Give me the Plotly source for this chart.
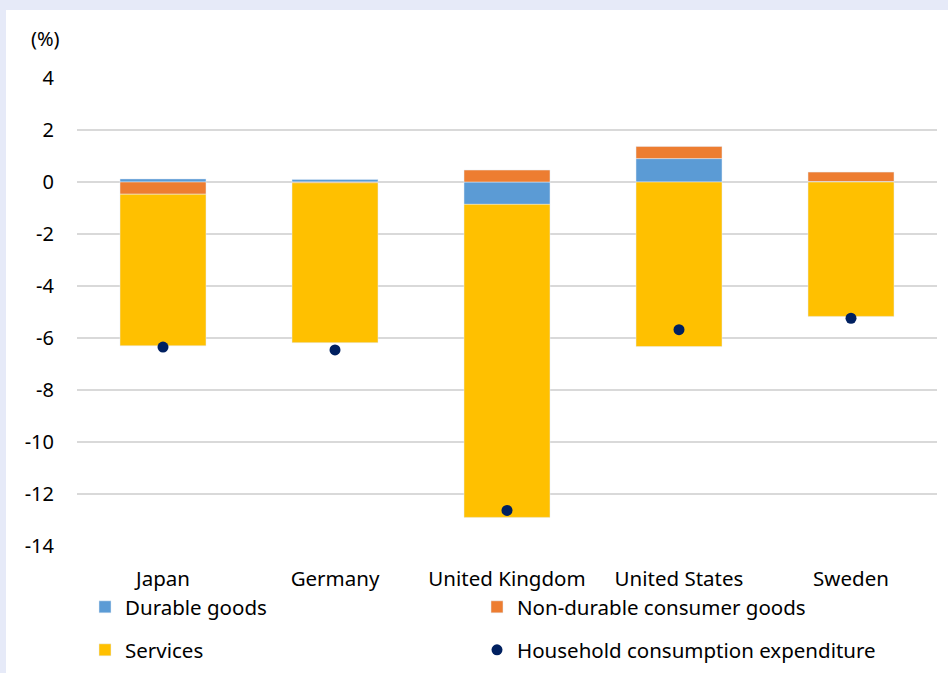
import plotly.graph_objects as go

countries = ["Japan", "Germany", "United Kingdom", "United States", "Sweden"]
durable = [0.12, 0.10, -0.86, 0.90, 0.02]
nondurable = [-0.47, -0.03, 0.46, 0.47, 0.36]
services = [-5.83, -6.15, -12.04, -6.33, -5.17]
household = [-6.35, -6.46, -12.63, -5.68, -5.24]
yticks = [4, 2, 0, -2, -4, -6, -8, -10, -12, -14]

FONT = "Noto Sans"
W, H = 948, 673
L, R, T, B = 77, 11, 78, 127
pw, ph = W - L - R, H - T - B

def px(x):
    return (x - L) / pw

def py(y):
    return (H - B - y) / ph

def cy(y):
    return 1 - y / H

def cx(x):
    return x / W

fig = go.Figure()
fig.add_bar(x=countries, y=durable, name="Durable goods", marker_color="#5B9BD5",
            width=0.5, legend="legend")
fig.add_bar(x=countries, y=nondurable, name="Non-durable consumer goods", marker_color="#ED7D31",
            width=0.5, legend="legend3")
fig.add_bar(x=countries, y=services, name="Services", marker_color="#FFC000",
            width=0.5, legend="legend2")
fig.add_scatter(x=countries, y=household, mode="markers", name="Household consumption expenditure",
                marker=dict(color="#002060", size=11), legend="legend4")

legend_common = dict(orientation="h", font=dict(family=FONT, size=20.5, color="#000000"),
                     bgcolor="rgba(0,0,0,0)",
                     xanchor="left", yanchor="middle", itemclick=False,
                     xref="container", yref="container")

fig.update_layout(
    width=W, height=H,
    margin=dict(l=L, r=R, t=T, b=B, autoexpand=False),
    paper_bgcolor="#FFFFFF", plot_bgcolor="#FFFFFF",
    barmode="relative",
    font=dict(family=FONT, size=20, color="#000000"),
    showlegend=True,
    legend=dict(x=cx(85), y=cy(607), **legend_common),
    legend3=dict(x=cx(477), y=cy(607), **legend_common),
    legend2=dict(x=cx(85), y=cy(650), **legend_common),
    legend4=dict(x=cx(477), y=cy(650), **legend_common),
    xaxis=dict(showgrid=False, showline=False, ticks="", zeroline=False,
               tickfont=dict(size=20.5, family=FONT), ticklabelstandoff=18),
    yaxis=dict(range=[-14, 4], tickvals=yticks, ticktext=[str(v) for v in yticks],
               showgrid=True, gridcolor="#D9D9D9", gridwidth=1.5,
               zeroline=True, zerolinecolor="#D9D9D9", zerolinewidth=1.5,
               showline=False, ticks="", tickfont=dict(size=20, family=FONT),
               ticklabelstandoff=22),
    annotations=[dict(text="(%)", xref="paper", yref="paper", x=px(45), y=py(38),
                      xanchor="center", yanchor="middle", showarrow=False,
                      font=dict(family=FONT, size=20, color="#000000"))],
    shapes=[
        dict(type="rect", xref="paper", yref="paper", x0=px(0), x1=px(W), y0=py(10), y1=py(0),
             fillcolor="#E6EAF8", line_width=0, layer="above"),
        dict(type="rect", xref="paper", yref="paper", x0=px(0), x1=px(6), y0=py(H), y1=py(0),
             fillcolor="#E6EAF8", line_width=0, layer="above"),
    ],
)

fig.write_html("out.html")
